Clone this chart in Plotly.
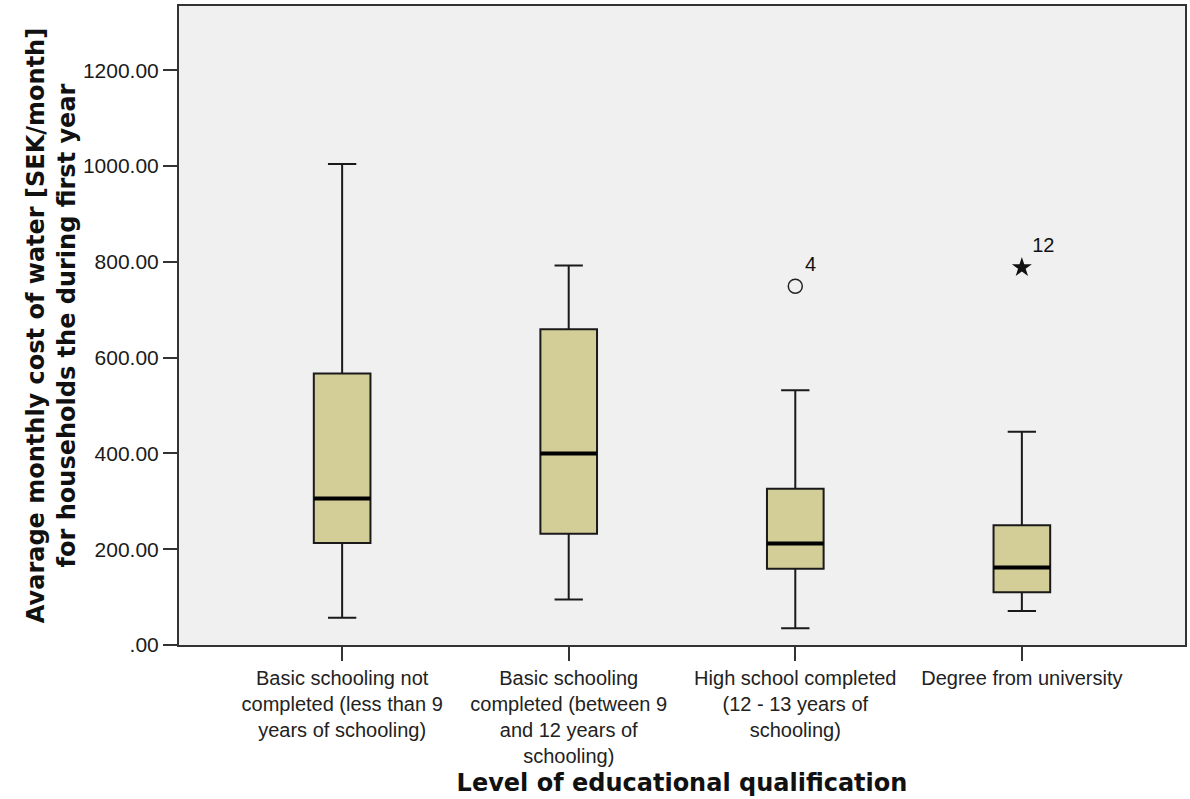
import plotly.graph_objects as go

# ---- data ----
categories = [
    "Basic schooling not<br>completed (less than 9<br>years of schooling)",
    "Basic schooling<br>completed (between 9<br>and 12 years of<br>schooling)",
    "High school completed<br>(12 - 13 years of<br>schooling)",
    "Degree from university",
]
lower_whisker = [57, 95, 35, 71]
q1_values = [213, 232, 159, 110]
median_values = [306, 400, 212, 162]
q3_values = [567, 659, 326, 250]
upper_whisker = [1004, 792, 532, 445]

outlier_circle_cat = [2]
outlier_circle_val = [749]
outlier_circle_lab = ["4"]
outlier_star_cat = [3]
outlier_star_val = [788]
outlier_star_lab = ["12"]

y_tick_vals = [0, 200, 400, 600, 800, 1000, 1200]
y_tick_text = [".00", "200.00", "400.00", "600.00", "800.00", "1000.00", "1200.00"]

x_title = "Level of educational qualification"
y_title = "Avarage monthly cost of water [SEK/month]<br>for households the during first year"

# ---- styling ----
box_width = 0.25
fill = "#D3CE97"
edge = "#1a1a1a"
frame = "#333333"
xpos = list(range(len(categories)))

fig = go.Figure()

fig.add_trace(go.Box(
    x=xpos,
    q1=q1_values,
    median=median_values,
    q3=q3_values,
    lowerfence=lower_whisker,
    upperfence=upper_whisker,
    width=box_width,
    whiskerwidth=0.5,
    fillcolor=fill,
    line=dict(color=edge, width=2),
    boxpoints=False,
    showlegend=False,
    hoverinfo="skip",
))

# thicker median lines (SPSS style)
mx, my = [], []
for i, m in zip(xpos, median_values):
    mx += [i - box_width / 2, i + box_width / 2, None]
    my += [m, m, None]
fig.add_trace(go.Scatter(x=mx, y=my, mode="lines",
                         line=dict(color="#000000", width=4),
                         showlegend=False, hoverinfo="skip"))

fig.add_trace(go.Scatter(
    x=outlier_circle_cat, y=outlier_circle_val, mode="markers+text",
    marker=dict(symbol="circle-open", size=14, color="#222222", line=dict(width=1.5)),
    text=outlier_circle_lab, textposition="top right",
    textfont=dict(family="Liberation Sans, Arial, sans-serif", size=20, color="#111111"),
    showlegend=False, hoverinfo="skip"))

fig.add_trace(go.Scatter(
    x=outlier_star_cat, y=outlier_star_val, mode="markers+text",
    marker=dict(symbol="star", size=15, color="#111111"),
    text=outlier_star_lab, textposition="top right",
    textfont=dict(family="Liberation Sans, Arial, sans-serif", size=20, color="#111111"),
    showlegend=False, hoverinfo="skip"))

fig.update_layout(
    width=1190, height=799,
    margin=dict(l=179, r=3, t=6, b=154),
    paper_bgcolor="white",
    plot_bgcolor="#F0F0F0",
    font=dict(family="Liberation Sans, Arial, sans-serif", color="#222222"),
)

fig.update_xaxes(
    range=[-0.72, 3.72],
    tickvals=xpos, ticktext=categories,
    ticks="outside", ticklen=14, tickwidth=2, tickcolor=frame,
    tickfont=dict(size=20, color="#222222"),
    showgrid=False, zeroline=False,
    showline=True, linecolor=frame, linewidth=2, mirror=True,
    title=dict(text=x_title, standoff=8,
               font=dict(family="DejaVu Sans", size=24, color="#111111", weight="bold")),
)

fig.update_yaxes(
    range=[0, 1334],
    tickvals=y_tick_vals, ticktext=y_tick_text,
    ticks="outside", ticklen=14, tickwidth=2, tickcolor=frame,
    tickfont=dict(size=21, color="#1a1a1a"),
    showgrid=False, zeroline=False,
    showline=True, linecolor=frame, linewidth=2, mirror=True,
    title=dict(text=y_title, standoff=0,
               font=dict(family="DejaVu Sans", size=24, color="#111111", weight="bold")),
)

fig.write_html(
    "out.html",
    config={"displayModeBar": False},
    post_script="document.body.style.margin='0';document.body.style.overflow='hidden';",
)
